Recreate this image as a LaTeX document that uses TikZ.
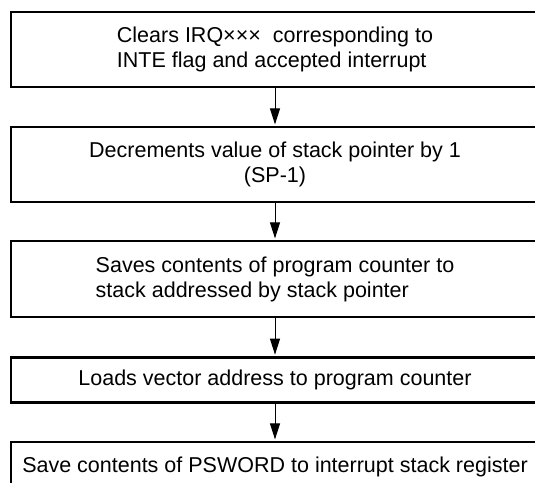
\documentclass[tikz,border=0pt]{standalone}
\usepackage{fontspec}
\setmainfont{Liberation Sans}
\usetikzlibrary{arrows.meta}
\tikzset{
  stepbox/.style={draw=black, line width=2.6pt, rectangle, minimum width=528pt, inner sep=0pt,
    font=\fontsize{21.5}{25}\selectfont},
  flowarrow/.style={line width=1pt, -{Triangle[length=16pt,width=10pt]}}
}
\begin{document}
\begin{tikzpicture}[x=1pt,y=1pt]
\useasboundingbox (0,0) rectangle (535,-482);
\clip (0,0) rectangle (535,-482);
\node[stepbox, minimum height=75pt, align=left] (b1) at (275,-49.5)
  {Clears IRQ×××\ \ corresponding to\\INTE flag and accepted interrupt};
\node[stepbox, minimum height=75pt, align=center] (b2) at (275,-164.5)
  {Decrements value of stack pointer by 1\\(SP-1)};
\node[stepbox, minimum height=76pt, align=left] (b3) at (275,-279)
  {Saves contents of program counter to\\stack addressed by stack pointer};
\node[stepbox, minimum height=45.5pt] (b4) at (275,-380)
  {Loads vector address to program counter};
\node[stepbox, minimum height=50pt] (b5) at (275,-467)
  {Save contents of PSWORD to interrupt stack register};
\draw[flowarrow] (b1.south) -- ([yshift=1.3pt]b2.north);
\draw[flowarrow] (b2.south) -- ([yshift=1.3pt]b3.north);
\draw[flowarrow] (b3.south) -- ([yshift=1.3pt]b4.north);
\draw[flowarrow] (b4.south) -- ([yshift=1.3pt]b5.north);
\end{tikzpicture}
\end{document}
